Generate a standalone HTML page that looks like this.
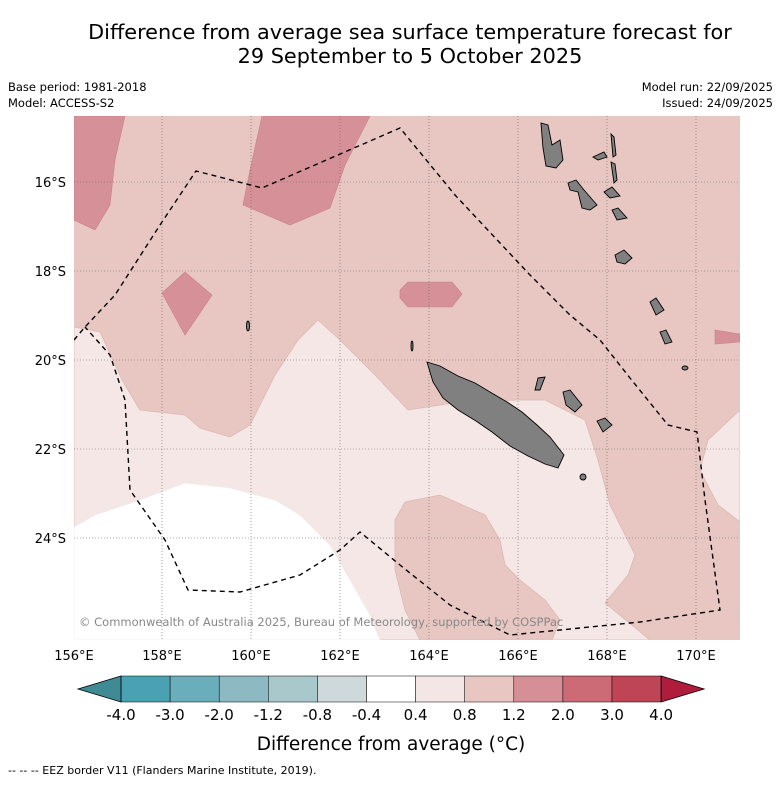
<!DOCTYPE html>
<html><head><meta charset="utf-8"><style>
body{margin:0;background:#fff;font-family:"Liberation Sans",sans-serif}
svg text{font-family:"DejaVu Sans","Liberation Sans",sans-serif}
</style></head><body>
<svg width="781" height="781" viewBox="0 0 781 781" xmlns="http://www.w3.org/2000/svg">
<text x="410" y="39" font-size="20.8" text-anchor="middle">Difference from average sea surface temperature forecast for</text>
<text x="410" y="63" font-size="20.8" text-anchor="middle">29 September to 5 October 2025</text>
<text x="8" y="91" font-size="11.5">Base period: 1981-2018</text>
<text x="8" y="107" font-size="11.5">Model: ACCESS-S2</text>
<text x="773" y="91" font-size="11.5" text-anchor="end">Model run: 22/09/2025</text>
<text x="773" y="107" font-size="11.5" text-anchor="end">Issued: 24/09/2025</text>
<defs><clipPath id="mc"><rect x="74" y="116" width="666" height="524"/></clipPath></defs>
<g clip-path="url(#mc)">
<rect x="74" y="116" width="666" height="524" fill="#e8c7c2"/>
<path fill="#f4e7e5" stroke="#dcb8b3" stroke-width="0.8" d="M74,327 L100,332 L122,380 L140,410 L185,415 L200,428 L230,437 L250,425 L275,375 L298,340 L318,320 L340,340 L375,375 L408,410 L460,402 L520,400 L545,400 L585,420 L598,460 L610,505 L635,555 L628,575 L605,603 L650,640 L74,640Z"/>
<path fill="#f4e7e5" stroke="#dcb8b3" stroke-width="0.8" d="M740,410 L708,440 L700,470 L718,505 L740,522Z"/>
<path fill="#e8c7c2" stroke="#dcb8b3" stroke-width="0.8" d="M395,520 L405,502 L440,495 L485,515 L500,540 L505,565 L520,580 L545,600 L560,620 L552,640 L420,640 L405,610 L395,570Z"/>
<path fill="#ffffff" stroke="#eee" stroke-width="0.8" d="M74,527 L95,515 L140,500 L185,483 L230,488 L275,500 L300,515 L330,545 L350,580 L370,615 L380,640 L74,640Z"/>
<g fill="#d69097" stroke="#c98088" stroke-width="0.6">
<path d="M74,116 L125,116 L115,160 L110,205 L95,230 L74,220Z"/>
<path d="M262,116 L370,116 L345,165 L330,208 L290,225 L243,205 L250,170Z"/>
<path d="M162,293 L185,272 L212,295 L185,335Z"/>
<path d="M400,290 L408,282 L452,282 L462,294 L452,307 L408,307 L400,298Z"/>
<path d="M715,330 L740,334 L740,342 L715,344Z"/>
</g>
<g stroke="#666" stroke-width="0.6" stroke-dasharray="1,2">
<line x1="162" y1="116" x2="162" y2="640"/><line x1="251" y1="116" x2="251" y2="640"/><line x1="340" y1="116" x2="340" y2="640"/><line x1="429" y1="116" x2="429" y2="640"/><line x1="518" y1="116" x2="518" y2="640"/><line x1="607" y1="116" x2="607" y2="640"/><line x1="696" y1="116" x2="696" y2="640"/>
<line x1="74" y1="182" x2="740" y2="182"/><line x1="74" y1="271" x2="740" y2="271"/><line x1="74" y1="360" x2="740" y2="360"/><line x1="74" y1="449" x2="740" y2="449"/><line x1="74" y1="538" x2="740" y2="538"/>
</g>
<g fill="#808080" stroke="#000" stroke-width="0.9">
<path d="M427,362 L440,366 L458,376 L475,383 L490,392 L507,402 L522,412 L537,425 L550,437 L564,455 L558,468 L545,464 L528,456 L510,446 L492,432 L476,421 L458,410 L443,398 L433,382Z"/>
<path d="M541,123 L548,125 L552,145 L560,140 L563,160 L556,168 L546,166 L543,148Z"/>
<path d="M568,183 L576,180 L584,190 L597,205 L590,210 L582,208 L578,192 L570,190Z"/>
<path d="M593,157 L604,152 L607,157 L598,160Z"/>
<path d="M611,134 L614,137 L616,155 L613,157Z"/>
<path d="M611,162 L615,164 L617,180 L614,183Z"/>
<path d="M604,192 L612,187 L620,196 L610,198Z"/>
<path d="M612,210 L618,208 L627,218 L617,220Z"/>
<path d="M615,255 L624,250 L632,258 L625,264 L617,262Z"/>
<path d="M650,302 L656,298 L664,310 L656,315Z"/>
<path d="M660,332 L666,330 L672,342 L665,344Z"/>
<path d="M563,392 L570,390 L582,405 L575,412 L566,405Z"/>
<path d="M597,421 L605,418 L612,425 L603,432Z"/>
<path d="M538,378 L545,377 L540,390 L535,390Z"/>
<ellipse cx="583" cy="477" rx="3" ry="3"/><ellipse cx="685" cy="368" rx="3" ry="2"/>
<ellipse cx="248" cy="326" rx="1.5" ry="5"/><ellipse cx="412" cy="346" rx="1" ry="5"/>
</g>
<path fill="none" stroke="#000" stroke-width="1.4" stroke-dasharray="5,4" d="M74,340 L85,327 L115,295 L160,225 L196,171 L262,188 L400,128 L455,195 L530,275 L570,315 L600,340 L630,378 L668,425 L697,432 L705,500 L720,610 L640,622 L560,630 L510,635 L450,605 L400,565 L360,532 L340,550 L300,575 L240,592 L188,590 L165,540 L130,490 L125,400 L110,355 L85,327"/>
<text x="79" y="626" font-size="11.5" fill="#888">© Commonwealth of Australia 2025, Bureau of Meteorology, supported by COSPPac</text>
</g>
<g font-size="13">
<text x="66" y="187" text-anchor="end">16°S</text><text x="66" y="276" text-anchor="end">18°S</text><text x="66" y="365" text-anchor="end">20°S</text><text x="66" y="454" text-anchor="end">22°S</text><text x="66" y="543" text-anchor="end">24°S</text>
</g>
<g font-size="13" text-anchor="middle">
<text x="74" y="660">156°E</text><text x="162" y="660">158°E</text><text x="251" y="660">160°E</text><text x="340" y="660">162°E</text><text x="429" y="660">164°E</text><text x="518" y="660">166°E</text><text x="607" y="660">168°E</text><text x="696" y="660">170°E</text>
</g>
<g id="cbar"></g>
<text x="391" y="750" font-size="18.5" text-anchor="middle">Difference from average (°C)</text>
<text x="8" y="774" font-size="11">--  --  -- EEZ border V11 (Flanders Marine Institute, 2019).</text>
</svg>
<script>
const levels=["-4.0","-3.0","-2.0","-1.2","-0.8","-0.4","0.4","0.8","1.2","2.0","3.0","4.0"];
const colors=["#49a1b1","#6aaebb","#8db9c3","#a8c8cc","#cdd9da","#ffffff","#f4e6e4","#e8c6c2","#d68f96","#cc6a75","#bd4555"];
const lowColor="#3e8a95", highColor="#b01c3b";
const g=document.getElementById('cbar');
const ns="http://www.w3.org/2000/svg";
const x0=121,w=49.1,y0=676,h=26;
function mk(t,a){const e=document.createElementNS(ns,t);for(const k in a)e.setAttribute(k,a[k]);g.appendChild(e);return e;}
colors.forEach((c,i)=>{const r=mk('rect',{x:x0+i*w,y:y0,width:w,height:h,fill:c,stroke:'#000','stroke-width':0.5});

});
const xe=x0+colors.length*w;
const lt=mk('polygon',{points:`${x0},${y0} ${78},${y0+h/2} ${x0},${y0+h}`,fill:lowColor,stroke:'#000','stroke-width':0.8});


const rt=mk('polygon',{points:`${xe},${y0} ${xe+43},${y0+h/2} ${xe},${y0+h}`,fill:highColor,stroke:'#000','stroke-width':0.8});


levels.forEach((l,i)=>{const t=mk('text',{x:x0+i*w,y:720,'font-size':15,'text-anchor':'middle'});t.textContent=l;

});
</script>
</body></html>
